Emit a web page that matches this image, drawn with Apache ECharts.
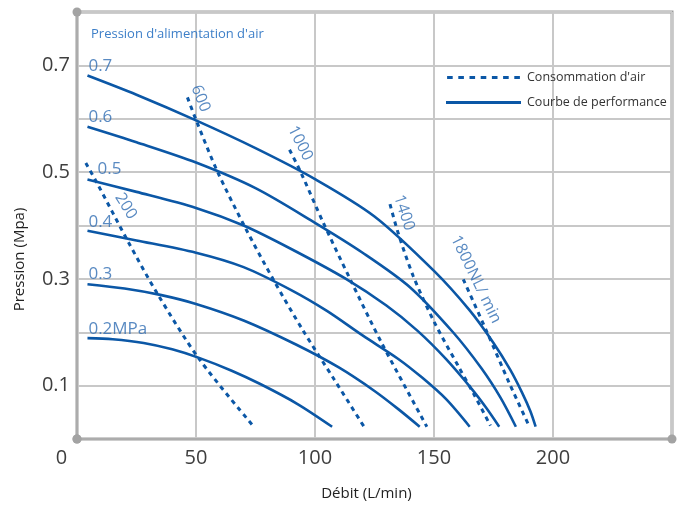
<!DOCTYPE html>
<html>
<head>
<meta charset="utf-8">
<script src="https://cdn.jsdelivr.net/npm/echarts@6/dist/echarts.min.js"></script>
<style>
  html, body { margin: 0; padding: 0; background: #fff; }
  #chart { width: 690px; height: 505px; }
</style>
</head>
<body>
<div id="chart"></div>
<script>
// Performance curves: [flow L/min, pressure MPa], one per supply pressure
const perf07 = [[4.4,0.681],[25,0.645],[50,0.597],[75,0.545],[100,0.487],[125,0.417],[150,0.315],[165,0.241],[175,0.180],[182,0.130],[187,0.087],[190.5,0.052],[192.7,0.023]];
const perf06 = [[4.4,0.585],[25,0.556],[50,0.518],[75,0.470],[100,0.405],[120,0.349],[140,0.284],[158,0.200],[170,0.132],[178,0.077],[184.4,0.023]];
const perf05 = [[4.4,0.486],[25,0.463],[50,0.433],[70,0.400],[90,0.356],[113,0.300],[130,0.250],[143,0.203],[155,0.150],[166,0.093],[172,0.058],[177.4,0.023]];
const perf04 = [[4.4,0.390],[25,0.372],[50,0.349],[70,0.322],[90,0.279],[105,0.240],[120,0.194],[135,0.150],[145,0.115],[155,0.075],[165,0.023]];
const perf03 = [[4.4,0.290],[20,0.282],[35,0.270],[50,0.253],[70,0.222],[92,0.177],[110,0.134],[125,0.090],[135,0.056],[144,0.023]];
const perf02 = [[4.4,0.189],[15,0.187],[28,0.180],[40,0.168],[51.3,0.152],[65,0.128],[77,0.103],[92.5,0.066],[107.2,0.023]];

// Air consumption curves (NL/min)
const cons200  = [[3.7,0.517],[8.6,0.478],[21.2,0.372],[33.8,0.272],[51.3,0.150],[74.3,0.023]];
const cons600  = [[46.4,0.640],[50,0.598],[58.9,0.502],[70.8,0.395],[82.7,0.297],[95,0.203],[108,0.112],[120.6,0.023]];
const cons1000 = [[89.3,0.542],[94,0.500],[103.5,0.405],[114.7,0.300],[128,0.180],[147,0.023]];
const cons1400 = [[131.5,0.440],[135,0.385],[141.3,0.305],[150,0.220],[160,0.138],[167,0.082],[173.7,0.025]];
const cons1800 = [[162.3,0.299],[172.3,0.200],[181.8,0.103],[189.9,0.025]];

// Text labels placed in data coordinates
const pressureLabels = ['0.7', '0.6', '0.5', '0.4', '0.3', '0.2MPa'];
const pressureAnchors = [[4.8,0.699],[4.8,0.603],[8.6,0.506],[4.8,0.407],[4.8,0.308],[4.8,0.206]];
const flowLabels = ['200', '600', '1000', '1400', '1800NL/ min'];
const flowAnchors = [[20.5,0.436],[51.9,0.638],[93.8,0.554],[137.4,0.424],[167.6,0.299]];

const xTicks = [0, 50, 100, 150, 200];
const yTickLabels = ['0.1', '0.3', '0.5', '0.7'];

const BLUE = '#0b57a6';
const LABEL_BLUE = '#2f6db3';
const FONT = '"Open Sans", "Noto Sans", sans-serif';
const flowAngles = [-58, -68, -63, -72, -64];

const perfName = "Courbe de performance";
const consName = "Consommation d'air";

// Legend swatches: a solid bar and a row of short dashes
const solidIcon = 'path://M0,0H75V3H0Z';
const dashIcon = 'path://M0,0h5.6v3h-5.6z M11.2,0h5.6v3h-5.6z M22.4,0h5.6v3h-5.6z M33.6,0h5.6v3h-5.6z M44.8,0h5.6v3h-5.6z M56,0h5.6v3h-5.6z M67.2,0h5.6v3h-5.6z';

const series = [];
[perf07, perf06, perf05, perf04, perf03, perf02].forEach(d => {
  series.push({
    name: perfName, type: 'line', data: d, smooth: 0.3,
    symbol: 'none', silent: true,
    lineStyle: { color: BLUE, width: 2.6 }, itemStyle: { color: BLUE }, z: 3
  });
});
[cons200, cons600, cons1000, cons1400, cons1800].forEach(d => {
  series.push({
    name: consName, type: 'line', data: d, smooth: 0.3,
    symbol: 'none', silent: true,
    lineStyle: { color: BLUE, width: 3, type: [4.5, 4.5] }, itemStyle: { color: BLUE }, z: 3
  });
});
series.push({
  type: 'scatter', silent: true, symbolSize: 0, z: 5,
  data: pressureLabels.map((t, i) => ({ value: pressureAnchors[i], name: t })),
  label: {
    show: true, position: 'inside', align: 'left', verticalAlign: 'middle',
    formatter: p => p.name, color: LABEL_BLUE, fontSize: 17, fontFamily: FONT
  }
});
series.push({
  type: 'scatter', silent: true, symbolSize: 0, z: 5,
  data: flowLabels.map((t, i) => ({ value: flowAnchors[i], name: t, label: { rotate: flowAngles[i] } })),
  label: {
    show: true, position: 'inside', align: 'center', verticalAlign: 'middle',
    formatter: p => p.name, color: LABEL_BLUE, fontSize: 16, fontFamily: FONT
  }
});

const chart = echarts.init(document.getElementById('chart'), null, { renderer: 'canvas' });
chart.setOption({
  animation: false,
  backgroundColor: '#fff',
  title: {
    text: "Pression d'alimentation d'air", left: 86, top: 23,
    textStyle: { color: '#3d7fc8', fontSize: 13, fontWeight: 'normal', fontFamily: FONT }
  },
  legend: {
    orient: 'vertical', left: 441, top: 66, itemWidth: 75, itemHeight: 3, itemGap: 12,
    data: [{ name: consName, icon: dashIcon }, { name: perfName, icon: solidIcon }],
    itemStyle: { color: BLUE },
    textStyle: { color: '#333', fontSize: 12.5, fontFamily: FONT, padding: [0, 0, 0, 1] }
  },
  grid: {
    left: 77, right: 18, top: 12, bottom: 66, outerBoundsMode: 'none',
    show: true, borderColor: '#9b9b9b', borderWidth: 3, backgroundColor: 'transparent'
  },
  xAxis: [{
    type: 'value', min: 0, max: 250, interval: 50,
    axisLine: { show: false }, axisTick: { show: false },
    splitLine: { show: true, lineStyle: { color: '#c8c8c8', width: 2 } },
    axisLabel: {
      margin: 9, color: '#3e3e3e', fontSize: 20, fontFamily: FONT,
      formatter: v => v === 0 ? '{z|0}' : (xTicks.indexOf(v) >= 0 ? String(v) : ''),
      rich: { z: { fontSize: 20, fontFamily: FONT, color: '#3e3e3e', padding: [0, 31, 0, 0] } }
    }
  }, {
    type: 'value', min: 0, max: 250, position: 'bottom', offset: 35,
    name: 'Débit (L/min)', nameLocation: 'middle', nameGap: 12,
    nameTextStyle: { color: '#222', fontSize: 15, fontFamily: FONT, padding: [0, 16, 0, 0] },
    axisLine: { show: true, symbol: ['circle', 'circle'], symbolSize: [9, 9], lineStyle: { color: '#a3a3a3', width: 1.5 } },
    axisTick: { show: false }, axisLabel: { show: false }, splitLine: { show: false }
  }],
  yAxis: [{
    type: 'value', min: 0, max: 0.8, interval: 0.1,
    name: 'Pression (Mpa)', nameLocation: 'middle', nameGap: 50, nameRotate: 90,
    nameTextStyle: { color: '#222', fontSize: 15, fontFamily: FONT, padding: [0, 68, 0, 0] },
    axisLine: { show: false }, axisTick: { show: false },
    splitLine: { show: true, lineStyle: { color: '#c8c8c8', width: 2 } },
    axisLabel: {
      margin: 7, color: '#3e3e3e', fontSize: 20, fontFamily: FONT,
      formatter: v => {
        const s = (Math.round(v * 10) / 10).toFixed(1);
        return yTickLabels.indexOf(s) >= 0 ? s : '';
      }
    }
  }, {
    type: 'value', min: 0, max: 0.8, position: 'left', offset: 44,
    axisLine: { show: true, symbol: ['circle', 'circle'], symbolSize: [9, 9], lineStyle: { color: '#a3a3a3', width: 1.5 } },
    axisTick: { show: false }, axisLabel: { show: false }, splitLine: { show: false }
  }],
  series: series
});
</script>
</body>
</html>
